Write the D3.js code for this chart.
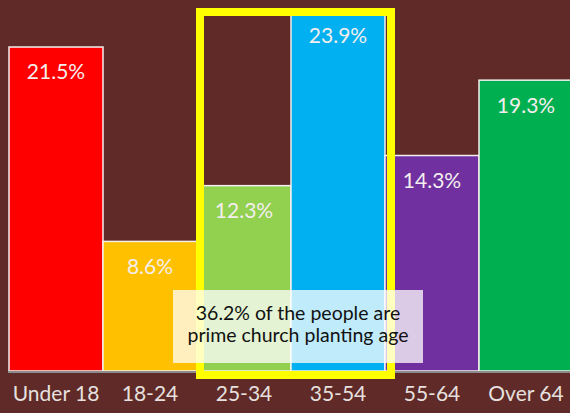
<!DOCTYPE html>
<html>
<head>
<meta charset="utf-8">
<script src="https://cdn.jsdelivr.net/npm/d3@7"></script>
<style>
  html, body { margin: 0; padding: 0; background: #5f2a28; }
  svg { display: block; }
</style>
</head>
<body>
<svg id="chart"></svg>
<script>
// Age groups and their share of the population (%)
const categories = ['Under 18', '18-24', '25-34', '35-54', '55-64', 'Over 64'];
const values = [21.5, 8.6, 12.3, 23.9, 14.3, 19.3];
const barColors = ['#ff0000', '#ffc000', '#92d050', '#00b0f0', '#7030a0', '#00b050'];
const highlighted = ['25-34', '35-54'];
const noteLines = ['36.2% of the people are', 'prime church planting age'];

const width = 570, height = 413;
const baseline = 371;

const svg = d3.select('#chart')
  .attr('width', width)
  .attr('height', height);

svg.append('rect')
  .attr('width', width)
  .attr('height', height)
  .attr('fill', '#5f2a28');

const x = d3.scaleBand()
  .domain(categories)
  .range([9, 573])
  .padding(0);

const y = d3.scaleLinear()
  .domain([0, 24.62])
  .range([baseline, 0]);

const font = "Lato, 'Open Sans', 'DejaVu Sans', sans-serif";

// Bars
svg.selectAll('.bar')
  .data(values)
  .join('rect')
  .attr('class', 'bar')
  .attr('x', (d, i) => x(categories[i]))
  .attr('y', d => y(d))
  .attr('width', x.bandwidth())
  .attr('height', d => baseline - y(d))
  .attr('fill', (d, i) => barColors[i])
  .attr('stroke', '#f4f0ee')
  .attr('stroke-width', 1.5);

// Baseline axis
const axis = svg.append('g')
  .attr('transform', `translate(0,${baseline + 1})`)
  .call(d3.axisBottom(x).tickSize(0).tickPadding(14));

axis.select('.domain')
  .attr('d', `M8,0H${width}`)
  .attr('stroke', '#8c8c8c')
  .attr('stroke-width', 2);

axis.selectAll('text')
  .attr('fill', '#e6e0df')
  .style('font-family', font)
  .style('font-size', '21px');

// Value labels
svg.selectAll('.value')
  .data(values)
  .join('text')
  .attr('class', 'value')
  .attr('x', (d, i) => x(categories[i]) + x.bandwidth() / 2)
  .attr('y', d => y(d) + 25)
  .attr('dy', '0.35em')
  .attr('text-anchor', 'middle')
  .attr('fill', '#f4eeee')
  .style('font-family', font)
  .style('font-size', '21px')
  .text(d => d + '%');

// Highlight frame around the prime ages
const hx0 = x(highlighted[0]);
const hx1 = x(highlighted[1]) + x.bandwidth();
svg.append('rect')
  .attr('x', hx0 + 3)
  .attr('y', 12)
  .attr('width', hx1 - hx0 + 3)
  .attr('height', baseline + 4 - 12)
  .attr('fill', 'none')
  .attr('stroke', '#ffff00')
  .attr('stroke-width', 8);

// Note box
const cx = (hx0 + hx1) / 2 + 7;
svg.append('rect')
  .attr('x', cx - 125)
  .attr('y', 290)
  .attr('width', 250)
  .attr('height', 73)
  .attr('fill', '#ffffff')
  .attr('fill-opacity', 0.75);

svg.selectAll('.note')
  .data(noteLines)
  .join('text')
  .attr('class', 'note')
  .attr('x', cx)
  .attr('y', (d, i) => 313 + i * 22)
  .attr('dy', '0.35em')
  .attr('text-anchor', 'middle')
  .attr('fill', '#111')
  .style('font-family', font)
  .style('font-size', '19.5px')
  .text(d => d);
</script>
</body>
</html>
